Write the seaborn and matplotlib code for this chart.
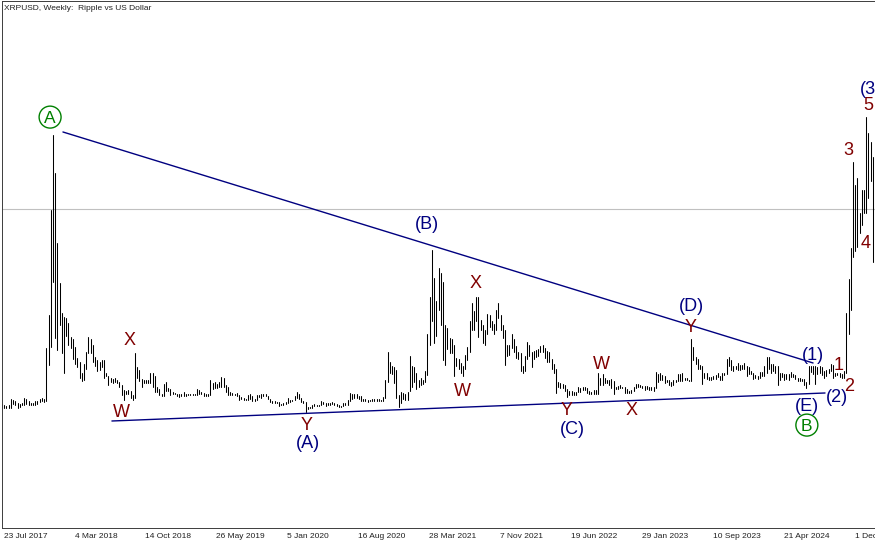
import matplotlib

matplotlib.use("Agg")
import matplotlib.pyplot as plt
import matplotlib.transforms as mtransforms
import pandas as pd
import seaborn as sns

# weekly bars, week 0 = 23 Jul 2017 (prices in USD)
lows = [
    .16, .16, .15, .15, .16, .20, .19, .15, .17, .19,      # Jul 2017
    .19, .20, .19, .19, .19, .19, .20, .22, .23, .22,
    .23, .65, .85, 1.60, .95, .82, 1.10, .78, .56, .98,     # Dec 2017
    .88, .84, .72, .66, .62, .50, .46, .47, .60, .78,
    .78, .68, .64, .58, .59, .62, .50, .52, .42, .45,
    .44, .45, .44, .40, .30, .25, .31, .31, .27, .25,
    .27, .50, .46, .40, .44, .44, .44, .44, .40, .34,       # Sep 2018
    .34, .30, .29, .29, .35, .35, .30, .31, .31, .29,
    .28, .29, .29, .29, .30, .30, .30, .30, .30, .31,
    .32, .29, .29, .29, .30, .37, .38, .38, .39, .40,
    .39, .34, .30, .30, .30, .30, .29, .25, .26, .25,       # Jun 2019
    .25, .25, .26, .23, .24, .25, .28, .27, .29, .29,
    .26, .22, .21, .21, .21, .18, .19, .19, .20, .21,
    .22, .23, .25, .27, .26, .22, .21, .11, .14, .15,       # Jan 2020
    .16, .18, .18, .18, .19, .20, .18, .19, .19, .20,
    .19, .18, .17, .17, .18, .19, .19, .24, .26, .27,
    .27, .26, .24, .23, .23, .22, .23, .24, .24, .24,       # Aug 2020
    .23, .23, .24, .27, .45, .55, .54, .44, .27, .17,
    .21, .26, .25, .25, .35, .40, .45, .37, .40, .42,
    .43, .45, .53, .87, 1.15, .90, .98, 1.28, 1.10, .70,    # Mar 2021
    .65, .83, .78, .78, .52, .63, .60, .56, .52, .60,
    .70, .80, 1.05, 1.05, 1.15, .97, 1.05, .90, .88, 1.00,
    1.08, 1.05, 1.00, 1.05, 1.18, 1.05, .95, .65, .75, .76,  # Oct 2021
    .84, .79, .73, .72, .58, .55, .58, .72, .75, .62,
    .71, .74, .75, .80, .79, .73, .68, .68, .60, .55,
    .33, .39, .38, .38, .35, .28, .30, .30, .30, .30,       # May 2022
    .34, .34, .36, .36, .33, .32, .32, .32, .32, .32,
    .42, .42, .44, .44, .42, .38, .31, .37, .37, .38,
    .38, .33, .33, .33, .33, .35, .38, .40, .39, .38,       # Dec 2022
    .36, .37, .36, .36, .35, .38, .45, .48, .48, .44,
    .45, .42, .41, .42, .45, .46, .46, .46, .47, .47,
    .46, .46, .70, .66, .60, .60, .43, .50, .49, .48,       # Jul 2023
    .47, .49, .49, .51, .47, .48, .53, .54, .64, .59,
    .58, .60, .59, .59, .60, .60, .52, .54, .54, .49,
    .50, .49, .50, .52, .52, .55, .60, .56, .58, .56,       # Jan 2024
    .42, .47, .51, .48, .49, .48, .51, .51, .49, .46,
    .46, .46, .42, .38, .43, .57, .54, .43, .54, .56,
    .53, .50, .52, .56, .58, .50, .52, .53, .51, .50,       # Aug 2024
    .50, .55, 1.00, 1.27, 1.88, 1.95, 2.00, 2.15, 2.25, 2.38,
    2.38, 2.55, 2.75, 1.82,
]
highs = [
    .20, .19, .18, .19, .26, .25, .24, .21, .20, .21,
    .27, .26, .23, .21, .21, .23, .24, .26, .27, .26,
    .84, 1.22, 2.42, 3.27, 2.84, 2.04, 1.58, 1.24, 1.19, 1.18,
    1.13, .97, .94, .85, .73, .68, .55, .66, .80, .97,
    .94, .88, .74, .70, .68, .70, .70, .56, .52, .50,
    .49, .50, .47, .45, .42, .36, .35, .36, .35, .30,
    .78, .62, .59, .49, .48, .48, .47, .56, .55, .52,
    .40, .37, .32, .43, .45, .38, .37, .34, .33, .32,
    .32, .31, .34, .31, .32, .32, .32, .31, .37, .36,
    .34, .33, .31, .32, .48, .44, .45, .43, .45, .51,
    .50, .42, .40, .34, .33, .32, .33, .30, .28, .27,
    .26, .30, .31, .29, .26, .30, .30, .31, .31, .31,
    .29, .26, .24, .23, .22, .22, .20, .21, .22, .27,
    .25, .25, .29, .34, .32, .27, .24, .22, .17, .17,
    .19, .20, .19, .19, .23, .22, .21, .21, .21, .22,
    .21, .20, .19, .18, .21, .21, .25, .33, .31, .31,
    .31, .29, .29, .26, .26, .25, .25, .26, .26, .26,
    .26, .25, .28, .48, .79, .68, .63, .62, .59, .30,
    .34, .33, .32, .34, .75, .64, .62, .55, .48, .50,
    .48, .58, 1.00, 1.42, 1.96, 1.64, 1.38, 1.75, 1.70, 1.60,
    1.10, 1.07, .95, .94, .87, .73, .71, .67, .64, .76,
    .85, 1.15, 1.35, 1.26, 1.42, 1.42, 1.16, 1.10, 1.05, 1.23,
    1.22, 1.15, 1.12, 1.27, 1.35, 1.22, 1.10, 1.05, .88, .87,
    1.00, .94, .86, .80, .78, .63, .75, .91, .88, .79,
    .81, .82, .83, .86, .88, .84, .81, .79, .72, .66,
    .60, .45, .44, .43, .42, .37, .35, .35, .34, .34,
    .39, .38, .39, .39, .38, .35, .34, .36, .36, .56,
    .50, .54, .50, .48, .48, .49, .46, .40, .41, .42,
    .40, .40, .37, .35, .36, .39, .43, .43, .42, .41,
    .41, .41, .39, .39, .40, .57, .54, .55, .53, .52,
    .48, .48, .45, .47, .48, .54, .54, .55, .50, .50,
    .48, .94, .85, .74, .72, .65, .64, .55, .55, .51,
    .51, .52, .53, .55, .52, .55, .56, .72, .74, .70,
    .64, .64, .67, .65, .65, .67, .63, .62, .58, .55,
    .53, .52, .57, .57, .63, .74, .74, .66, .66, .64,
    .63, .55, .56, .54, .54, .54, .57, .54, .53, .50,
    .50, .49, .49, .45, .64, .64, .64, .64, .62, .64,
    .62, .58, .59, .60, .66, .65, .55, .56, .55, .54,
    .58, 1.24, 1.63, 1.98, 2.97, 2.70, 2.78, 2.38, 2.65, 2.65,
    3.48, 3.30, 3.20, 3.02,
]

tick_weeks = [0, 32, 64, 96, 128, 160, 192, 224, 256, 288, 320, 352, 384]
tick_labels = ["23 Jul 2017", "4 Mar 2018", "14 Oct 2018", "26 May 2019",
               "5 Jan 2020", "16 Aug 2020", "28 Mar 2021", "7 Nov 2021",
               "19 Jun 2022", "29 Jan 2023", "10 Sep 2023", "21 Apr 2024",
               "1 Dec 2024"]

# triangle boundaries (week, price)
upper_weeks = [27.5, 366.0]
upper_prices = [3.31, 0.67]
lower_weeks = [49.6, 371.4]
lower_prices = [0.007, 0.327]
bid_price = 2.43

# wave labels (text, week, price)
minor_text = ["W", "X", "Y", "W", "X", "Y", "W", "X", "Y", "1", "2", "3", "4", "5"]
minor_weeks = [53.7, 57.8, 137.6, 207.6, 213.9, 255.0, 270.3, 284.3, 310.9,
               377.7, 382.2, 381.7, 389.9, 390.8]
minor_prices = [0.10, 0.93, -0.04, 0.34, 1.58, 0.13, 0.65, 0.13, 1.07,
                0.64, 0.40, 3.10, 2.04, 3.61]
inter_text = ["(A)", "(B)", "(C)", "(D)", "(E)", "(1)", "(2)"]
inter_weeks = [138.0, 191.8, 257.2, 310.9, 363.2, 366.0, 376.8]
inter_prices = [-0.245, 2.256, -0.085, 1.321, 0.178, 0.761, 0.281]
primary_text = ["A", "B"]
primary_weeks = [21.7, 363.2]
primary_prices = [3.48, -0.04]

NAVY = "#000080"
MAROON = "#800000"
GREEN = "#008000"
FRAME = "#3c3c3c"

sns.set_style("white")
plt.rcParams["font.family"] = ["Liberation Sans", "DejaVu Sans"]

bars = pd.DataFrame({
    "week": list(range(len(lows))) * 2,
    "price": lows + highs,
})

fig = plt.figure(figsize=(8.75, 5.45), dpi=100)
ax = fig.add_axes([2 / 875, 17 / 545, 874 / 875, 527 / 545])

sns.lineplot(data=bars, x="week", y="price", units="week", estimator=None,
             color="black", linewidth=0.75, legend=False, ax=ax)

ax.axhline(bid_price, color="#c0c0c0", linewidth=0.8, zorder=0)
ax.plot(upper_weeks, upper_prices, color=NAVY, linewidth=1.0)
ax.plot(lower_weeks, lower_prices, color=NAVY, linewidth=1.0)

for txt, w, p in zip(minor_text, minor_weeks, minor_prices):
    ax.text(w, p, txt, color=MAROON, fontsize=13, ha="center", va="center")
for txt, w, p in zip(inter_text, inter_weeks, inter_prices):
    ax.text(w, p, txt, color=NAVY, fontsize=13, ha="center", va="center")

# circled primary degree labels
circle_font = 12.5
ax.scatter(primary_weeks, primary_prices, s=250, facecolors="none",
           edgecolors=GREEN, linewidths=1.0, zorder=3)
for txt, w, p in zip(primary_text, primary_weeks, primary_prices):
    ax.annotate(txt, (w, p), xytext=(0, -0.716 * circle_font / 2),
                textcoords="offset points", color=GREEN, fontsize=circle_font,
                ha="center", va="baseline")

ax.text(387.2, 3.80, "(3)", color=NAVY, fontsize=13, ha="left", va="center")

ax.set_xlim(0, 394.4)
ax.set_ylim(-1.216, 4.807)
ax.set_xlabel("")
ax.set_ylabel("")
ax.set_yticks([])
ax.set_xticks(tick_weeks)
ax.set_xticklabels(tick_labels, ha="left", fontsize=6, color="#202020")
ax.tick_params(axis="x", direction="out", length=3, width=0.7, color=FRAME, pad=0.8)
shift = mtransforms.ScaledTranslation(1.2 / 72, 0, fig.dpi_scale_trans)
for lab in ax.get_xticklabels():
    lab.set_transform(lab.get_transform() + shift)

for side in ["left", "top", "bottom"]:
    ax.spines[side].set_color(FRAME)
    ax.spines[side].set_linewidth(0.7)
ax.spines["right"].set_visible(False)

fig.text(4 / 875, 1 - 8 / 545, "XRPUSD, Weekly:  Ripple vs US Dollar",
         fontsize=6, color="#202020", ha="left", va="center")

fig.savefig("out.png", dpi=100, facecolor="white")
